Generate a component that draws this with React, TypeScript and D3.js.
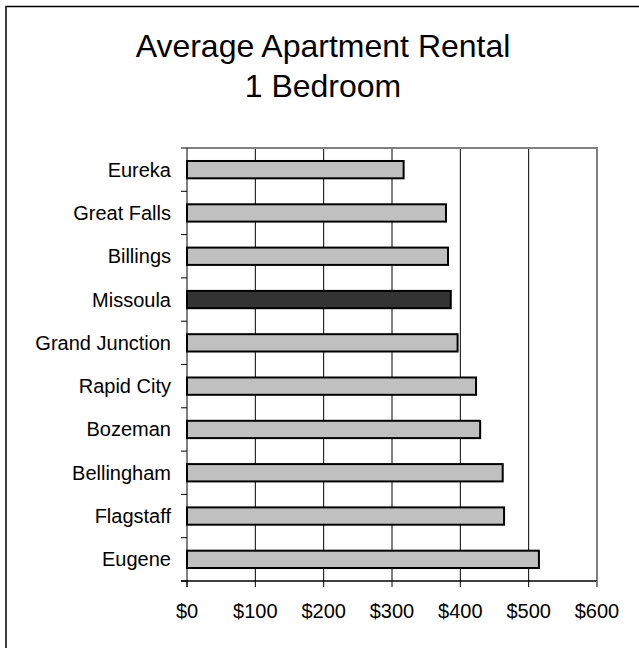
import * as d3 from 'd3';

const cities = ['Eureka', 'Great Falls', 'Billings', 'Missoula', 'Grand Junction', 'Rapid City', 'Bozeman', 'Bellingham', 'Flagstaff', 'Eugene'];
const rents = [317, 379, 382, 386, 396, 423, 429, 462, 464, 515];
const highlight = 'Missoula';
const xTicks = [0, 100, 200, 300, 400, 500, 600];
const titleLines = ['Average Apartment Rental', '1 Bedroom'];

const W = 639, H = 648;
const plot = { left: 187, right: 597, top: 148, bottom: 581 };
const font = '"Liberation Sans", Arial, sans-serif';

export default function App() {
  const x = d3.scaleLinear().domain([0, 600]).range([plot.left, plot.right]);
  const y = d3.scaleBand<string>().domain(cities).range([plot.top, plot.bottom]).paddingInner(0.6).paddingOuter(0.3);
  const band = (plot.bottom - plot.top) / cities.length;
  const fmt = (d: number) => '$' + d3.format('d')(d);

  return (
    <>
      <style>{`body{margin:0}`}</style>
      <svg width={W} height={H} style={{ display: 'block' }}>
        <rect x={0} y={0} width={W} height={H} fill="#fff" />
        {/* chart area frame */}
        <rect x={6} y={6.5} width={W + 20} height={H + 20} fill="none" stroke="#000" strokeWidth={1.5} />

        {titleLines.map((t, i) => (
          <text key={t} x={323} y={57 + i * 39.5} textAnchor="middle" fontFamily={font} fontSize={32} fill="#000">{t}</text>
        ))}

        {/* gridlines */}
        {xTicks.slice(1, -1).map(t => (
          <line key={t} x1={x(t)} x2={x(t)} y1={plot.top} y2={plot.bottom} stroke="#000" strokeWidth={1} />
        ))}

        {/* plot area border (top/right) */}
        <path d={`M${plot.left},${plot.top}H${plot.right}V${plot.bottom}`} fill="none" stroke="#808080" strokeWidth={2} />

        {/* bars */}
        {cities.map((c, i) => (
          <rect key={c}
            x={x(0)} y={y(c)!} width={x(rents[i]) - x(0)} height={y.bandwidth()}
            fill={c === highlight ? '#333333' : '#c0c0c0'} stroke="#000" strokeWidth={2} />
        ))}

        {/* y axis */}
        <line x1={plot.left} x2={plot.left} y1={plot.top} y2={plot.bottom + 6} stroke="#000" strokeWidth={1} />
        {d3.range(cities.length + 1).map(i => (
          <line key={i} x1={plot.left - 6} x2={plot.left} y1={plot.top + i * band} y2={plot.top + i * band} stroke="#000" strokeWidth={1} />
        ))}
        {cities.map(c => (
          <text key={c} x={171} y={y(c)! + y.bandwidth() / 2} dy="0.35em" textAnchor="end" fontFamily={font} fontSize={20} fill="#000">{c}</text>
        ))}

        {/* x axis */}
        <line x1={plot.left - 6} x2={plot.right} y1={plot.bottom} y2={plot.bottom} stroke="#000" strokeWidth={1.5} />
        {xTicks.map(t => (
          <line key={t} x1={x(t)} x2={x(t)} y1={plot.bottom} y2={plot.bottom + 6} stroke={t === 600 ? '#808080' : '#000'} strokeWidth={t === 600 ? 2 : 1} />
        ))}
        {xTicks.map(t => (
          <text key={t} x={x(t)} y={618} textAnchor="middle" fontFamily={font} fontSize={20} fill="#000">{fmt(t)}</text>
        ))}
      </svg>
    </>
  );
}
